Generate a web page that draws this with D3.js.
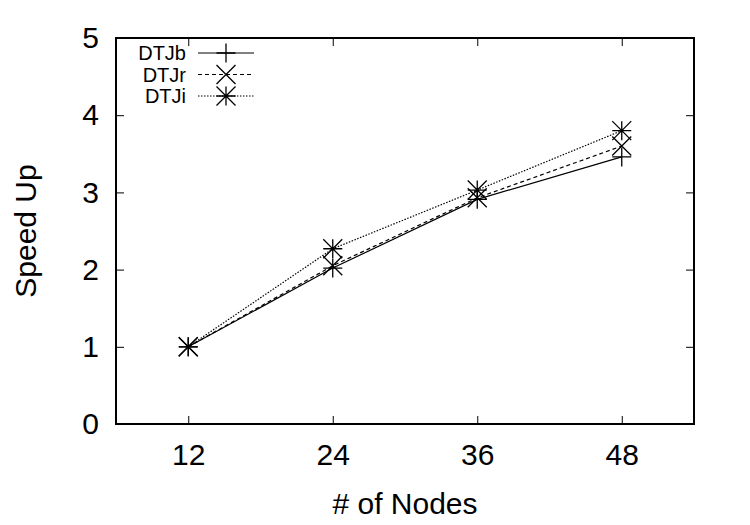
<!DOCTYPE html>
<html>
<head>
<meta charset="utf-8">
<script src="https://cdn.jsdelivr.net/npm/d3@7"></script>
<style>
  body { margin: 0; background: #fff; }
  text { font-family: "Liberation Sans", Arial, sans-serif; fill: #000; }
</style>
</head>
<body>
<div id="chart"></div>
<script>
// data
let nodes = [12, 24, 36, 48];
let dtjb = [1.0, 2.02, 2.91, 3.46];
let dtjr = [1.0, 2.05, 2.93, 3.60];
let dtji = [1.0, 2.27, 3.03, 3.80];
let xTicks = [12, 24, 36, 48];
let yTicks = [0, 1, 2, 3, 4, 5];

let series = [
  { name: 'DTJb', values: dtjb, dash: null, marker: 'plus' },
  { name: 'DTJr', values: dtjr, dash: '4,3', marker: 'cross' },
  { name: 'DTJi', values: dtji, dash: '1.5,1.5', marker: 'star' }
];

let w = 750, h = 525;
let plotL = 116, plotR = 694, plotT = 38, plotB = 424;

let svg = d3.select('#chart')
  .append('svg')
  .attr('width', w)
  .attr('height', h);

let x = d3.scaleLinear().domain([6, 54]).range([plotL, plotR]);
let y = d3.scaleLinear().domain([0, 5]).range([plotB, plotT]);

// axes, ticks drawn inward on all four sides
let tickLen = 8;
svg.append('g')
  .attr('transform', 'translate(0,' + plotB + ')')
  .call(d3.axisBottom(x).tickValues(xTicks).tickFormat(d3.format('d')).tickSize(-tickLen).tickPadding(20))
  .call(g => g.select('.domain').remove())
  .call(g => g.selectAll('text').attr('font-size', 30).attr('dy', '0.71em'));
svg.append('g')
  .attr('transform', 'translate(0,' + plotT + ')')
  .call(d3.axisTop(x).tickValues(xTicks).tickSize(-tickLen).tickFormat(''))
  .call(g => g.select('.domain').remove());
svg.append('g')
  .attr('transform', 'translate(' + plotL + ',0)')
  .call(d3.axisLeft(y).tickValues(yTicks).tickFormat(d3.format('d')).tickSize(-tickLen).tickPadding(17))
  .call(g => g.select('.domain').remove())
  .call(g => g.selectAll('text').attr('font-size', 30));
svg.append('g')
  .attr('transform', 'translate(' + plotR + ',0)')
  .call(d3.axisRight(y).tickValues(yTicks).tickSize(-tickLen).tickFormat(''))
  .call(g => g.select('.domain').remove());

svg.selectAll('.tick line').attr('stroke', '#000').attr('stroke-width', 1);

svg.append('rect')
  .attr('x', plotL).attr('y', plotT)
  .attr('width', plotR - plotL).attr('height', plotB - plotT)
  .attr('fill', 'none').attr('stroke', '#000').attr('stroke-width', 2);

// axis titles
svg.append('text')
  .attr('x', (plotL + plotR) / 2).attr('y', 503)
  .attr('text-anchor', 'middle').attr('dy', '0.35em')
  .attr('font-size', 30)
  .text('# of Nodes');
svg.append('text')
  .attr('transform', 'translate(25,' + (plotT + plotB) / 2 + ') rotate(-90)')
  .attr('text-anchor', 'middle').attr('dy', '0.35em')
  .attr('font-size', 30)
  .text('Speed Up');

let ms = 9.5;
function drawMarker(g, cx, cy, kind) {
  let p = d3.path();
  if (kind === 'plus' || kind === 'star') {
    p.moveTo(cx - ms, cy); p.lineTo(cx + ms, cy);
    p.moveTo(cx, cy - ms); p.lineTo(cx, cy + ms);
  }
  if (kind === 'cross' || kind === 'star') {
    p.moveTo(cx - ms, cy - ms); p.lineTo(cx + ms, cy + ms);
    p.moveTo(cx - ms, cy + ms); p.lineTo(cx + ms, cy - ms);
  }
  g.append('path')
    .attr('d', p.toString())
    .attr('stroke', '#000').attr('stroke-width', 1.3).attr('fill', 'none');
}

let line = d3.line()
  .x(function(d, i) { return x(nodes[i]); })
  .y(function(d) { return y(d); });

series.forEach(function(s, k) {
  let g = svg.append('g');
  g.append('path')
    .attr('d', line(s.values))
    .attr('fill', 'none')
    .attr('stroke', '#000')
    .attr('stroke-width', 1.2)
    .attr('stroke-dasharray', s.dash);
  s.values.forEach(function(v, i) {
    drawMarker(g, x(nodes[i]), y(v), s.marker);
  });

  // legend entry
  let ly = 53 + k * 21.5;
  svg.append('text')
    .attr('x', 186).attr('y', ly)
    .attr('text-anchor', 'end').attr('dy', '0.35em')
    .attr('font-size', 20)
    .text(s.name);
  svg.append('line')
    .attr('x1', 198).attr('x2', 254)
    .attr('y1', ly).attr('y2', ly)
    .attr('stroke', '#000').attr('stroke-width', 1)
    .attr('stroke-dasharray', s.dash);
  drawMarker(svg, 226, ly, s.marker);
});
</script>
</body>
</html>
